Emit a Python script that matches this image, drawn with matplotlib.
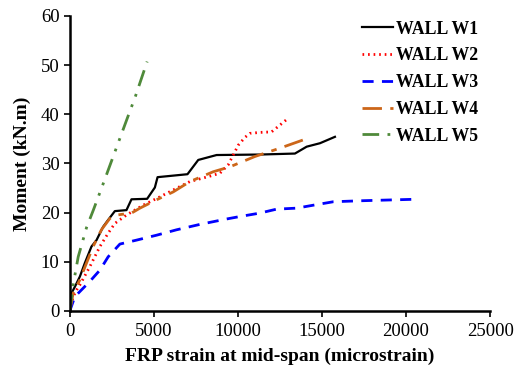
import matplotlib
matplotlib.use("Agg")
import matplotlib.pyplot as plt

plt.rcParams['font.family'] = ['Liberation Serif', 'DejaVu Serif']

w1_x = [0, 100, 300, 600, 890, 1290, 1590, 1980, 2280, 2680, 3370, 3670, 4600, 5060, 5220, 7000, 7640, 8730, 11310, 13390, 14090, 14880, 15770]
w1_y = [0, 3.6, 4.9, 7.0, 9.7, 13.1, 14.4, 17.1, 18.5, 20.3, 20.5, 22.7, 22.8, 25.1, 27.2, 27.8, 30.7, 31.7, 31.8, 32.0, 33.4, 34.1, 35.4]

w2_x = [0, 200, 500, 600, 1190, 1790, 2280, 2680, 3370, 4360, 5360, 6150, 7140, 8330, 8930, 9420, 9720, 10020, 10420, 10710, 11310, 12000, 12500, 13000]
w2_y = [0, 2.9, 4.9, 5.3, 9.0, 13.1, 15.8, 17.8, 19.5, 21.5, 23.2, 24.6, 26.3, 27.4, 28.0, 29.7, 31.7, 33.7, 35.3, 36.1, 36.3, 36.4, 37.8, 39.2]

w3_x = [0, 300, 700, 1190, 1790, 2280, 2980, 3970, 5160, 6350, 7740, 9330, 10120, 11310, 12300, 13490, 14480, 15670, 17260, 20480]
w3_y = [0, 2.9, 4.3, 6.0, 8.3, 11.0, 13.6, 14.4, 15.4, 16.5, 17.6, 18.7, 19.2, 19.9, 20.7, 20.9, 21.5, 22.2, 22.4, 22.7]

w4_x = [0, 200, 595, 990, 1390, 1880, 2380, 2780, 3670, 4170, 5160, 6150, 7140, 8530, 9520, 11010, 12500, 13990]
w4_y = [0, 3.6, 6.3, 9.7, 13.1, 16.5, 18.8, 19.5, 19.9, 20.9, 22.6, 24.2, 26.3, 28.3, 29.3, 31.4, 33.1, 34.9]

w5_x = [0, 200, 500, 1000, 1400, 2000, 2700, 3400, 3900, 4600]
w5_y = [0, 5.3, 11.0, 17.0, 20.5, 26.0, 32.5, 39.0, 43.6, 50.7]

labels = ["WALL W1", "WALL W2", "WALL W3", "WALL W4", "WALL W5"]
x_ticks = [0, 5000, 10000, 15000, 20000, 25000]
y_ticks = [0, 10, 20, 30, 40, 50, 60]

fig = plt.figure(figsize=(5.17, 3.68), dpi=100)
ax = fig.add_axes([0.135, 0.155, 0.813, 0.802])

ax.plot(w1_x, w1_y, color='black', lw=1.6, ls='-', label=labels[0])
ax.plot(w2_x, w2_y, color='#ff0000', lw=2.0, ls=(0, (0.6, 1.4)), label=labels[1])
ax.plot(w3_x, w3_y, color='#0000ff', lw=2.0, ls=(0, (4, 3)), label=labels[2])
ax.plot(w4_x, w4_y, color='#cc6619', lw=2.0, ls=(0, (7, 3, 2, 3)), label=labels[3])
ax.plot(w5_x, w5_y, color='#4f8a3a', lw=2.0, ls=(0, (6, 3, 1, 3, 1, 3)), label=labels[4])

ax.set_xlim(0, 25000)
ax.set_ylim(0, 60)
ax.set_xticks(x_ticks)
ax.set_yticks(y_ticks)
ax.spines['top'].set_visible(False)
ax.spines['right'].set_visible(False)
ax.spines['left'].set_linewidth(1.8)
ax.spines['bottom'].set_linewidth(1.8)
ax.tick_params(direction='out', length=4, width=1.2, labelsize=13.5)
ax.tick_params(axis='x', pad=5)

ax.set_xlabel("FRP strain at mid-span (microstrain)", fontsize=14, fontweight='bold', labelpad=5)
ax.set_ylabel("Moment (kN.m)", fontsize=14, fontweight='bold', labelpad=7)

leg = ax.legend(loc='upper right', bbox_to_anchor=(1.01, 1.038), frameon=False,
                prop={'weight': 'bold', 'size': 12.8}, handlelength=1.75,
                handletextpad=0.2, labelspacing=0.55)

fig.savefig("out.png", dpi=100)
